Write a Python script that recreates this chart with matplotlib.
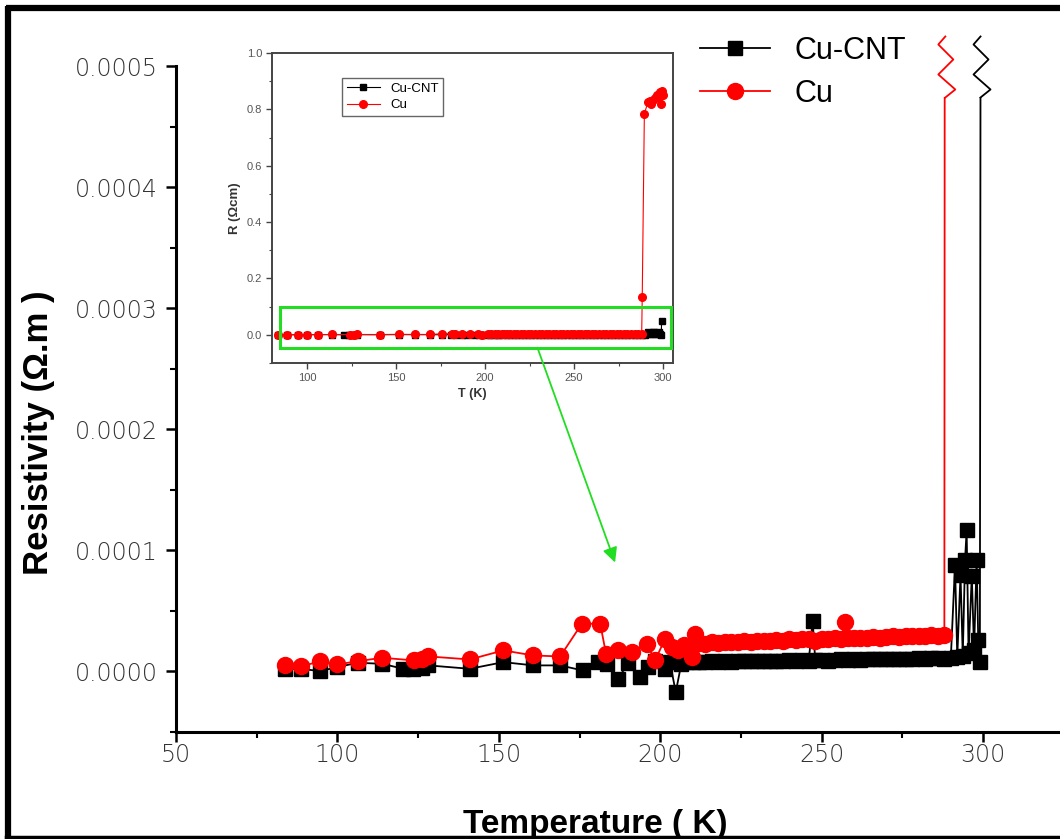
import matplotlib
matplotlib.use("Agg")
import matplotlib.pyplot as plt
import numpy as np
from matplotlib.lines import Line2D
from matplotlib.patches import Rectangle, ConnectionPatch
from matplotlib.transforms import IdentityTransform
from matplotlib.ticker import MultipleLocator, FormatStrFormatter

plt.rcParams['font.family'] = ['Liberation Sans', 'DejaVu Sans']

# ---------------- data (resistivity in Ohm.m) ----------------
T_CU = [83.8, 88.6, 94.6, 100.0, 106.3, 113.9, 123.8, 126.1, 128.2, 141.0, 151.4,
        160.7, 169.0, 175.7, 181.4, 183.2, 187.0, 191.2, 195.8, 198.4, 201.5,
        203.5, 205.5, 207.5, 209.7, 210.8,
        212, 214, 216, 218, 220, 222, 224, 226, 228, 230, 232, 234, 236, 238,
        240, 242, 244, 246, 248, 250, 252, 254, 256, 257.2, 258, 260, 262, 264,
        266, 268, 270, 272, 274, 276, 278, 280, 282, 284, 286, 288,
        288.3, 289.5, 291.5, 292.5, 293.5, 294.5, 295.5, 296.5, 297.5, 298.5,
        299.0, 299.5, 300.0]
RHO_CU = [0.50e-5, 0.41e-5, 0.83e-5, 0.58e-5, 0.85e-5, 1.13e-5, 0.91e-5, 1.05e-5,
          1.24e-5, 0.99e-5, 1.74e-5, 1.32e-5, 1.24e-5, 3.94e-5, 3.94e-5, 1.46e-5,
          1.74e-5, 1.60e-5, 2.29e-5, 0.91e-5, 2.70e-5,
          2.00e-5, 1.80e-5, 2.20e-5, 1.18e-5, 3.10e-5,
          2.35e-5, 2.30e-5, 2.40e-5, 2.35e-5, 2.45e-5, 2.40e-5, 2.45e-5, 2.50e-5,
          2.45e-5, 2.55e-5, 2.50e-5, 2.55e-5, 2.60e-5, 2.55e-5, 2.65e-5, 2.60e-5,
          2.65e-5, 2.70e-5, 2.55e-5, 2.70e-5, 2.65e-5, 2.75e-5, 2.70e-5, 4.07e-5,
          2.75e-5, 2.80e-5, 2.75e-5, 2.80e-5, 2.85e-5, 2.80e-5, 2.85e-5, 2.90e-5,
          2.85e-5, 2.90e-5, 2.95e-5, 2.90e-5, 2.95e-5, 3.00e-5, 2.95e-5, 3.00e-5,
          1.33e-3, 7.85e-3, 8.25e-3, 8.30e-3, 8.20e-3, 8.35e-3, 8.40e-3, 8.50e-3,
          8.45e-3, 8.60e-3, 8.20e-3, 8.65e-3, 8.50e-3]

T_CNT = [83.8, 88.6, 94.6, 100.0, 106.3, 113.9, 120.4, 123.5, 126.1, 128.2, 141.0,
         151.4, 160.7, 169.0, 176.0, 180.8, 183.5, 187.0, 190.0, 193.7, 196.3,
         198.5, 201.5, 203.0, 204.8, 206.5,
         208, 210, 212, 214, 216, 218, 220, 222, 224, 226, 228, 230, 232, 234,
         236, 238, 240, 242, 244, 246, 247.2, 248, 250, 252, 254, 256, 258, 260,
         262, 264, 266, 268, 270, 272, 274, 276, 278, 280, 282, 284, 286, 288, 290,
         291.3, 292.0, 293.0, 293.7, 294.4, 294.9, 295.5, 296.5, 297.2, 298.0,
         298.5, 299.0, 299.2]
RHO_CNT = [0.22e-5, 0.22e-5, 0.03e-5, 0.36e-5, 0.72e-5, 0.63e-5, 0.22e-5, 0.22e-5,
           0.30e-5, 0.50e-5, 0.22e-5, 0.77e-5, 0.50e-5, 0.50e-5, 0.08e-5, 0.77e-5,
           0.60e-5, -0.60e-5, 0.70e-5, -0.47e-5, 0.36e-5, 0.90e-5, 0.22e-5,
           0.77e-5, -1.71e-5, 0.60e-5,
           0.75e-5, 0.80e-5, 0.75e-5, 0.80e-5, 0.85e-5, 0.80e-5, 0.85e-5, 0.80e-5,
           0.85e-5, 0.85e-5, 0.90e-5, 0.85e-5, 0.90e-5, 0.85e-5, 0.90e-5, 0.90e-5,
           0.95e-5, 0.90e-5, 0.95e-5, 0.90e-5, 4.20e-5, 0.95e-5, 0.95e-5, 0.90e-5,
           0.95e-5, 1.00e-5, 0.95e-5, 1.00e-5, 0.95e-5, 1.00e-5, 1.00e-5, 1.05e-5,
           1.00e-5, 1.05e-5, 1.00e-5, 1.05e-5, 1.05e-5, 1.10e-5, 1.05e-5, 1.10e-5,
           1.10e-5, 1.05e-5, 1.10e-5,
           8.76e-5, 1.20e-5, 8.00e-5, 1.30e-5, 9.17e-5, 11.65e-5, 1.50e-5, 7.90e-5,
           1.80e-5, 9.17e-5, 2.56e-5, 0.77e-5, 5.00e-4]

LABELS = ["Cu-CNT", "Cu"]
X_TICKS = [50, 100, 150, 200, 250, 300]
Y_TICKS = [0.0, 0.0001, 0.0002, 0.0003, 0.0004, 0.0005]
INSET_X_TICKS = [100, 150, 200, 250, 300]
INSET_Y_TICKS = [0.0, 0.2, 0.4, 0.6, 0.8, 1.0]
OHM_M_TO_OHM_CM = 100.0
BREAK_LEVEL = 0.000474

# ---------------- figure ----------------
W, H = 1060, 839
fig = plt.figure(figsize=(W / 100, H / 100), dpi=100)
fig.patch.set_facecolor('white')

def fx(px):
    return px / W

def fy(py):
    return 1 - py / H

ax = fig.add_axes([fx(176), fy(732), fx(1058) - fx(176), fy(66) - fy(732)])
ax.set_xlim(50, 323.2)
ax.set_ylim(-0.00005, 0.0005)
for s in ['top', 'right']:
    ax.spines[s].set_visible(False)
for s in ['left', 'bottom']:
    ax.spines[s].set_linewidth(2.2)

clip = Rectangle((40, -0.001), 400, BREAK_LEVEL + 0.001, transform=ax.transData)

l_cnt, = ax.plot(T_CNT, RHO_CNT, color='black', lw=1.3, marker='s', ms=10.5,
                 mec='black', mfc='black', label=LABELS[0])
l_cu, = ax.plot(T_CU, RHO_CU, color='#ff0000', lw=1.3, marker='o', ms=11.5,
                mec='#ff0000', mfc='#ff0000', label=LABELS[1])
l_cnt.set_clip_path(clip)
l_cu.set_clip_path(clip)
l_cnt.set_zorder(2)
l_cu.set_zorder(3)

ax.set_xticks(X_TICKS)
ax.set_yticks(Y_TICKS)
ax.xaxis.set_minor_locator(MultipleLocator(25))
ax.yaxis.set_minor_locator(MultipleLocator(0.00005))
ax.yaxis.set_major_formatter(FormatStrFormatter('%.4f'))
ax.tick_params(axis='both', which='major', direction='out', length=7, width=1.8,
               labelsize=17, labelcolor='#333333', pad=6)
ax.tick_params(axis='x', which='major', pad=1)
ax.tick_params(axis='both', which='minor', direction='out', length=4, width=1.5)
for lab in ax.get_xticklabels() + ax.get_yticklabels():
    lab.set_family(['DejaVu Sans'])
    lab.set_fontweight('light')

ax.set_xlabel('Temperature ( K)', fontsize=24, fontweight='bold')
ax.set_ylabel('Resistivity (Ω.m )', fontsize=25, fontweight='bold')
ax.xaxis.set_label_coords(0.475, -0.116)
ax.yaxis.set_label_coords(-0.137, 0.45)

leg = ax.legend(handles=[l_cnt, l_cu], loc='upper left',
                bbox_to_anchor=(fx(700), fy(36)), bbox_transform=fig.transFigure,
                frameon=False, fontsize=22, handlelength=2.3, handletextpad=0.8,
                labelspacing=0.42, borderpad=0, borderaxespad=0)

# break marks on the vertical jumps
ZZ_DX = [0, 10, -7, 8, -7, 0]
ZZ_DY = [0, 8, 23, 38, 53, 61]
fig.canvas.draw()
for tx, col in [(T_CU[T_CU.index(288.3)], '#ff0000'), (T_CNT[-1], 'black')]:
    bx, by = ax.transData.transform((tx, BREAK_LEVEL))
    xs = [bx + d for d in ZZ_DX]
    ys = [by + d for d in ZZ_DY]
    fig.add_artist(Line2D(xs, ys, transform=IdentityTransform(), color=col, lw=1.3))

# ---------------- inset ----------------
ins = fig.add_axes([fx(271.7), fy(363), fx(673) - fx(271.7), fy(53) - fy(363)])
ins.set_xlim(80, 305.6)
ins.set_ylim(-0.1, 1.0)
cu_cm = [v * OHM_M_TO_OHM_CM for v in RHO_CU]
cnt_cm = [v * OHM_M_TO_OHM_CM for v in RHO_CNT]
i_cnt, = ins.plot(T_CNT, cnt_cm, color='black', lw=0.8, marker='s', ms=5,
                  label=LABELS[0])
i_cu, = ins.plot(T_CU, cu_cm, color='#ff0000', lw=0.8, marker='o', ms=5.5,
                 label=LABELS[1])
for s in ins.spines.values():
    s.set_color('#444444')
    s.set_linewidth(1.4)
ins.set_xticks(INSET_X_TICKS)
ins.set_yticks(INSET_Y_TICKS)
ins.xaxis.set_minor_locator(MultipleLocator(25))
ins.yaxis.set_minor_locator(MultipleLocator(0.1))
ins.yaxis.set_major_formatter(FormatStrFormatter('%.1f'))
ins.tick_params(axis='both', which='major', direction='out', length=4, width=1,
                labelsize=8, labelcolor='#555555', color='#444444', pad=3)
ins.tick_params(axis='both', which='minor', direction='out', length=2, width=0.8,
                color='#444444')
ins.set_xlabel('T (K)', fontsize=9, fontweight='bold', color='#333333', labelpad=4)
ins.set_ylabel('R (Ωcm)', fontsize=9.5, fontweight='bold', color='#333333', labelpad=4)
ileg = ins.legend(handles=[i_cnt, i_cu], loc='upper left', bbox_to_anchor=(0.175, 0.919),
                  borderaxespad=0, fancybox=False, edgecolor='#666666', fontsize=9.5,
                  handlelength=2.5, framealpha=1, borderpad=0.35, labelspacing=0.3)
ileg.get_frame().set_linewidth(1.0)

# green zoom box + arrow
ins.add_patch(Rectangle((84.7, -0.046), 304.3 - 84.7, 0.099 + 0.046, fill=False,
                        edgecolor='#22dd22', lw=2.2, zorder=5))
arrow = ConnectionPatch(xyA=(229.4, -0.046), coordsA=ins.transData,
                        xyB=(186.0, 9.0e-5), coordsB=ax.transData,
                        arrowstyle='-|>', mutation_scale=22, color='#22dd22', lw=1.3)
fig.add_artist(arrow)

# outer frame
frame_kw = dict(transform=fig.transFigure, color='black', lw=4.5, solid_capstyle='butt')
fig.add_artist(Line2D([fx(8), fx(8)], [fy(6), fy(839)], **frame_kw))
fig.add_artist(Line2D([fx(6), 1], [fy(8), fy(8)], **frame_kw))
fig.add_artist(Line2D([fx(6), 1], [fy(837), fy(837)], transform=fig.transFigure,
                      color='black', lw=2.5))

fig.savefig('out.png', dpi=100)
